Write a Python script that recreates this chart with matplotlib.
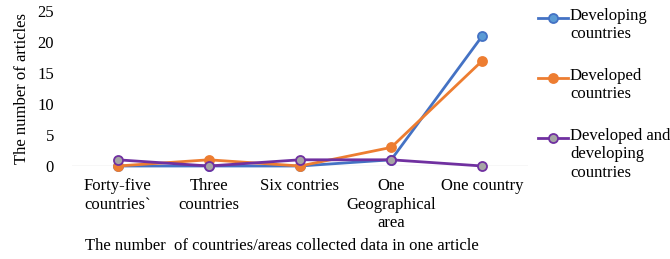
import matplotlib.pyplot as plt
from matplotlib.lines import Line2D

plt.rcParams['font.family'] = ['Liberation Serif', 'DejaVu Serif']
plt.rcParams['font.size'] = 12

categories = ['Forty-five\ncountries`', 'Three\ncountries', 'Six contries',
              'One\nGeographical\narea', 'One country']
developing = [0, 0, 0, 1, 21]
developed = [0, 1, 0, 3, 17]
both = [1, 0, 1, 1, 0]

series = [
    ('Developing\ncountries', developing, '#4472C4', '#5B9BD5'),
    ('Developed\ncountries', developed, '#ED7D31', '#ED7D31'),
    ('Developed and\ndeveloping\ncountries', both, '#7030A0', '#A5A5A5'),
]

W, H = 670, 259
fig = plt.figure(figsize=(W / 100, H / 100), dpi=100)
ax = fig.add_axes([72 / W, 1 - 166 / H, (528 - 72) / W, (166 - 11) / H])

x = list(range(len(categories)))
for name, vals, col, face in series:
    ax.plot(x, vals, color=col, lw=2, marker='o', ms=6.5,
            markerfacecolor=face, markeredgecolor=col, markeredgewidth=1.3,
            clip_on=False, zorder=3)

ax.set_xlim(-0.5, len(categories) - 0.5)
ax.set_ylim(0, 25)
ax.set_yticks([0, 5, 10, 15, 20, 25])
ax.set_xticks(x)
ax.set_xticklabels(categories, linespacing=1.2)
ax.tick_params(length=0, pad=9)
ax.tick_params(axis='y', pad=13)
for s in ax.spines.values():
    s.set_visible(False)
ax.axhline(0, color='#D9D9D9', lw=1, zorder=1)

ax.set_ylabel('The number of articles', labelpad=5)
fig.text(282 / W, 1 - 246 / H, 'The number  of countries/areas collected data in one article',
         ha='center', va='center')

# legend drawn by hand so the marker sits on the first text line
leg_y = [18, 78, 138]
for (name, vals, col, face), yy in zip(series, leg_y):
    fy = 1 - yy / H
    fig.add_artist(Line2D([538 / W, 568 / W], [fy, fy], transform=fig.transFigure,
                          color=col, lw=2))
    fig.add_artist(Line2D([553 / W], [fy], transform=fig.transFigure, marker='o', ms=6.5,
                          color=col, markerfacecolor=face, markeredgewidth=1.3))
    fig.text(570 / W, 1 - (yy - 10) / H, name, ha='left', va='top', linespacing=1.2)

fig.savefig('out.png', dpi=100)
